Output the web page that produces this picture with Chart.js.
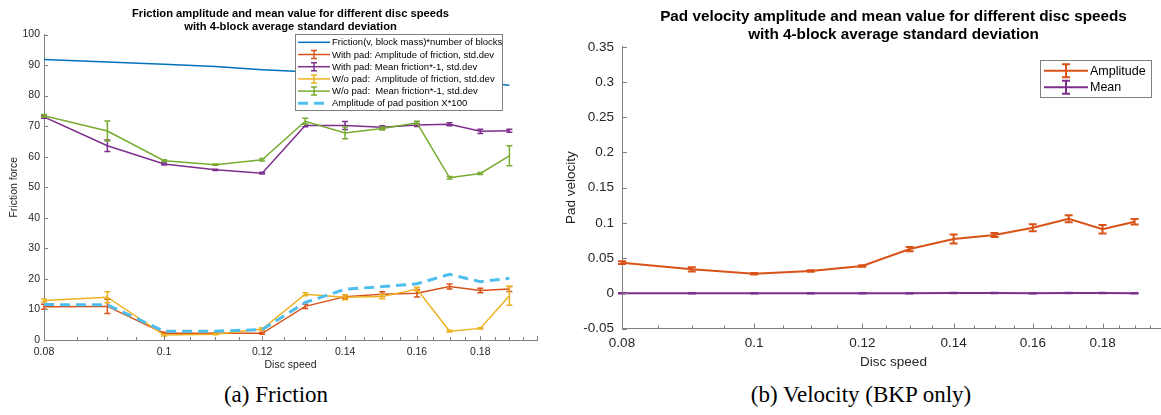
<!DOCTYPE html>
<html>
<head>
<meta charset="utf-8">
<script src="https://cdn.jsdelivr.net/npm/chart.js@4.4.1/dist/chart.umd.min.js"></script>
<style>
  html, body { margin: 0; padding: 0; background: #fff; width: 1161px; height: 415px; overflow: hidden; position: relative; }
  canvas { position: absolute; top: 0; }
  #friction { left: 0; }
  #velocity { left: 560px; }
  .caption { position: absolute; top: 383px; line-height: 23px; font-family: 'Liberation Serif', serif; font-size: 23px; color: #000; transform: translateX(-50%); white-space: nowrap; }
</style>
</head>
<body>
<canvas id="friction" width="580" height="375"></canvas>
<canvas id="velocity" width="620" height="375"></canvas>
<div class="caption" style="left:276px">(a) Friction</div>
<div class="caption" style="left:861px">(b) Velocity (BKP only)</div>
<script>
// Disc speeds (x, log axis)
const speeds = [0.08, 0.09, 0.10, 0.11, 0.12, 0.13, 0.14, 0.15, 0.16, 0.17, 0.18, 0.19]

// (a) friction
const frictionModel = [91.8, 91.0, 90.3, 89.5, 88.5, 87.8, 87.1, 86.3, 85.6, 84.9, 84.2, 83.4]
const padAmp      = [10.9, 11.0, 2.2, 2.2, 2.2, 11.0, 14.2, 15.0, 15.3, 17.5, 16.2, 16.7]
const padAmpStd   = [0.8, 2.3, 0.3, 0.2, 0.3, 0.7, 0.6, 0.8, 1.2, 0.8, 0.7, 0.8]
const padMean     = [73.0, 63.6, 57.6, 55.7, 54.6, 70.2, 70.2, 69.6, 70.4, 70.6, 68.3, 68.5]
const padMeanStd  = [0.4, 1.9, 0.3, 0.2, 0.3, 0.4, 1.3, 0.5, 0.5, 0.5, 0.7, 0.5]
const noPadAmp     = [12.9, 14.0, 1.6, 1.9, 3.6, 15.0, 14.0, 14.2, 16.7, 2.9, 3.8, 14.5]
const noPadAmpStd  = [0.5, 1.8, 0.3, 0.2, 0.4, 0.5, 0.8, 0.7, 0.6, 0.3, 0.2, 3.1]
const noPadMean    = [73.4, 68.4, 58.7, 57.4, 59.0, 71.6, 67.8, 69.2, 71.1, 53.1, 54.5, 60.3]
const noPadMeanStd = [0.4, 3.3, 0.3, 0.2, 0.4, 1.0, 1.9, 0.5, 0.5, 0.4, 0.3, 3.3]
const padPosAmp = [11.6, 11.5, 2.9, 2.9, 3.4, 12.3, 16.6, 17.5, 18.4, 21.5, 19.1, 20.2]

// (b) velocity
const velAmp     = [0.0435, 0.0341, 0.0278, 0.0317, 0.0388, 0.0629, 0.0771, 0.0828, 0.0932, 0.1060, 0.0909, 0.1017]
const velAmpStd  = [0.002, 0.003, 0.001, 0.001, 0.001, 0.003, 0.0065, 0.003, 0.005, 0.005, 0.006, 0.004]
const velMean    = [0.0, 0.0, 0.0, 0.0, 0.0, 0.0002, 0.0003, 0.0005, 0.0002, 0.0003, 0.0005, 0.0001]
const velMeanStd = [0.0004, 0.0004, 0.0004, 0.0004, 0.0004, 0.0004, 0.0004, 0.0004, 0.0004, 0.0004, 0.0004, 0.0004]

// ticks
const xTickValues = [0.08, 0.1, 0.12, 0.14, 0.16, 0.18]
const xTickLabels = ['0.08', '0.1', '0.12', '0.14', '0.16', '0.18']
const frictionTicks = [0, 10, 20, 30, 40, 50, 60, 70, 80, 90, 100]
const velocityTicks = [-0.05, 0, 0.05, 0.1, 0.15, 0.2, 0.25, 0.3, 0.35]
const velocityTickLabels = ['-0.05', '0', '0.05', '0.1', '0.15', '0.2', '0.25', '0.3', '0.35']

const COLORS = {
  blue: '#0072BD', orange: '#D95319', yellow: '#EDB120',
  purple: '#7E2F8E', green: '#77AC30', cyan: '#4DBEEE'
}
const AXIS = '#808080'
const TEXT = '#262626'
const FONT = "'Liberation Sans', Arial, sans-serif"

const pts = vals => speeds.map((s, i) => ({ x: s, y: vals[i] }))

// vertical error bars with caps, drawn right after their dataset
const errorBars = {
  id: 'errorBars',
  afterDatasetDraw(chart, args) {
    const ds = chart.data.datasets[args.index]
    if (!ds.errors) return
    const { ctx, scales: { x, y } } = chart
    const cap = ds.capWidth || 3
    ctx.save()
    ctx.strokeStyle = ds.borderColor
    ctx.lineWidth = ds.errorWidth || ds.borderWidth
    ctx.beginPath()
    ds.data.forEach((p, i) => {
      const px = x.getPixelForValue(p.x)
      const top = y.getPixelForValue(p.y + ds.errors[i])
      const bot = y.getPixelForValue(p.y - ds.errors[i])
      ctx.moveTo(px, top); ctx.lineTo(px, bot)
      ctx.moveTo(px - cap, top); ctx.lineTo(px + cap, top)
      ctx.moveTo(px - cap, bot); ctx.lineTo(px + cap, bot)
    })
    ctx.stroke()
    ctx.restore()
  }
}

// MATLAB style tick marks pointing into the plot
const inwardTicks = {
  id: 'inwardTicks',
  afterDraw(chart, args, opts) {
    const { ctx, chartArea: a, scales: { x, y } } = chart
    ctx.save()
    ctx.strokeStyle = AXIS
    ctx.lineWidth = 1
    ctx.beginPath()
    for (let k = 16; k <= 40; k++) {
      const v = k * 0.005
      const px = Math.round(x.getPixelForValue(v)) + 0.5
      const major = k % 4 === 0
      ctx.moveTo(px, a.bottom)
      ctx.lineTo(px, a.bottom - (major ? opts.len : opts.minorLen))
    }
    opts.yTicks.forEach(v => {
      const py = Math.round(y.getPixelForValue(v)) + 0.5
      ctx.moveTo(a.left, py)
      ctx.lineTo(a.left + opts.len, py)
    })
    ctx.stroke()
    ctx.restore()
  }
}

// boxed legend inside the axes
const boxLegend = {
  id: 'boxLegend',
  afterDraw(chart, args, o) {
    const ctx = chart.ctx
    ctx.save()
    ctx.fillStyle = '#fff'
    ctx.fillRect(o.x, o.y, o.w, o.h)
    ctx.strokeStyle = AXIS
    ctx.lineWidth = 1
    ctx.strokeRect(o.x + 0.5, o.y + 0.5, o.w, o.h)
    ctx.font = o.font
    ctx.textBaseline = 'middle'
    chart.data.datasets.forEach((ds, i) => {
      const cy = o.y + o.first + i * o.rowH
      ctx.strokeStyle = ds.borderColor
      ctx.lineWidth = ds.borderWidth
      ctx.setLineDash(ds.borderDash || [])
      ctx.beginPath()
      ctx.moveTo(o.x + o.lineFrom, cy)
      ctx.lineTo(o.x + o.lineTo, cy)
      ctx.stroke()
      ctx.setLineDash([])
      if (ds.errors) {
        const gx = o.x + (o.lineFrom + o.lineTo) / 2
        ctx.beginPath()
        ctx.moveTo(gx, cy - o.glyphH); ctx.lineTo(gx, cy + o.glyphH)
        ctx.moveTo(gx - o.glyphCap, cy - o.glyphH); ctx.lineTo(gx + o.glyphCap, cy - o.glyphH)
        ctx.moveTo(gx - o.glyphCap, cy + o.glyphH); ctx.lineTo(gx + o.glyphCap, cy + o.glyphH)
        ctx.stroke()
      }
      ctx.fillStyle = '#000'
      ctx.fillText(ds.label, o.x + o.textX, cy + 0.5)
    })
    ctx.restore()
  }
}

function logX(fontSize, pad, titlePad, height) {
  return {
    type: 'logarithmic', min: 0.08, max: 0.2,
    afterBuildTicks: s => { s.ticks = xTickValues.map(v => ({ value: v })) },
    afterFit: s => { s.height = height },
    grid: { display: false, drawTicks: false },
    border: { display: true, color: AXIS, width: 1 },
    ticks: {
      autoSkip: false, maxRotation: 0, padding: pad, color: TEXT,
      font: { family: FONT, size: fontSize },
      callback: (v, i) => xTickLabels[i]
    },
    title: { display: true, text: 'Disc speed', color: TEXT, font: { family: FONT, size: fontSize }, padding: { top: 0, bottom: titlePad } }
  }
}

function lineSet(label, vals, color, width, errors, cap, order) {
  return {
    label, data: pts(vals), borderColor: color, backgroundColor: color,
    borderWidth: width, pointRadius: 0, tension: 0, errors, capWidth: cap, order
  }
}

new Chart(document.getElementById('friction'), {
  type: 'line',
  data: {
    datasets: [
      lineSet('Friction(v, block mass)*number of blocks', frictionModel, COLORS.blue, 1.5, null, 0, 6),
      lineSet('With pad: Amplitude of friction, std.dev', padAmp, COLORS.orange, 1.5, padAmpStd, 3, 5),
      lineSet('With pad: Mean friction*-1, std.dev', padMean, COLORS.purple, 1.5, padMeanStd, 3, 4),
      lineSet('W/o pad:  Amplitude of friction, std.dev', noPadAmp, COLORS.yellow, 1.5, noPadAmpStd, 3, 3),
      lineSet('W/o pad:  Mean friction*-1, std.dev', noPadMean, COLORS.green, 1.5, noPadMeanStd, 3, 2),
      Object.assign(lineSet('Amplitude of pad position X*100', padPosAmp, COLORS.cyan, 3, null, 0, 1), { borderDash: [10, 6] })
    ]
  },
  options: {
    responsive: false,
    animation: false,
    layout: { padding: { left: 0, right: 43, top: 0, bottom: 0 } },
    plugins: {
      legend: { display: false },
      tooltip: { enabled: false },
      title: {
        display: true, fullSize: false, color: '#000',
        text: ['Friction amplitude and mean value for different disc speeds', 'with 4-block average standard deviation'],
        font: { family: FONT, size: 11.2, weight: 'bold', lineHeight: 1.134 },
        padding: { top: 7.6, bottom: 1.5 }
      },
      inwardTicks: { yTicks: frictionTicks, len: 4, minorLen: 3 },
      boxLegend: {
        x: 295, y: 34, w: 207, h: 76, first: 8.3, rowH: 12.2,
        lineFrom: 3, lineTo: 35, textX: 37, glyphH: 4, glyphCap: 3,
        font: "9.5px 'Liberation Sans', Arial, sans-serif"
      }
    },
    scales: {
      x: logX(10.5, 6, 3.7, 35),
      y: {
        min: 0, max: 100,
        afterBuildTicks: s => { s.ticks = frictionTicks.map(v => ({ value: v })) },
        afterFit: s => { s.width = 44 },
        grid: { display: false, drawTicks: false },
        border: { display: true, color: AXIS, width: 1 },
        ticks: { padding: 4, color: TEXT, font: { family: FONT, size: 10.5 } },
        title: { display: true, text: 'Friction force', color: TEXT, font: { family: FONT, size: 10.5 }, padding: { top: 7.6, bottom: 0 } }
      }
    }
  },
  plugins: [errorBars, inwardTicks, boxLegend]
})

new Chart(document.getElementById('velocity'), {
  type: 'line',
  data: {
    datasets: [
      lineSet('Amplitude', velAmp, COLORS.orange, 2, velAmpStd, 4, 2),
      lineSet('Mean', velMean, COLORS.purple, 2, velMeanStd, 4, 1)
    ]
  },
  options: {
    responsive: false,
    animation: false,
    layout: { padding: { left: 0, right: 15, top: 0, bottom: 0 } },
    plugins: {
      legend: { display: false },
      tooltip: { enabled: false },
      title: {
        display: true, fullSize: false, color: '#000',
        text: ['Pad velocity amplitude and mean value for different disc speeds', 'with 4-block average standard deviation'],
        font: { family: FONT, size: 15.3, weight: 'bold', lineHeight: 1.196 },
        padding: { top: 7.5, bottom: 2.8 }
      },
      inwardTicks: { yTicks: velocityTicks, len: 5, minorLen: 3 },
      boxLegend: {
        x: 480, y: 60, w: 111, h: 37, first: 10.7, rowH: 16.6,
        lineFrom: 4, lineTo: 48, textX: 50, glyphH: 6.5, glyphCap: 4,
        font: "12.5px 'Liberation Sans', Arial, sans-serif"
      }
    },
    scales: {
      x: logX(13.5, 6.5, 4.2, 46.5),
      y: {
        min: -0.05, max: 0.35,
        afterBuildTicks: s => { s.ticks = velocityTicks.map(v => ({ value: v })) },
        afterFit: s => { s.width = 62 },
        grid: { display: false, drawTicks: false },
        border: { display: true, color: AXIS, width: 1 },
        ticks: {
          padding: 8, color: TEXT, font: { family: FONT, size: 13.5 },
          callback: (v, i) => velocityTickLabels[i]
        },
        title: { display: true, text: 'Pad velocity', color: TEXT, font: { family: FONT, size: 13.5 }, padding: { top: 3.6, bottom: 0 } }
      }
    }
  },
  plugins: [errorBars, inwardTicks, boxLegend]
})
</script>
</body>
</html>
